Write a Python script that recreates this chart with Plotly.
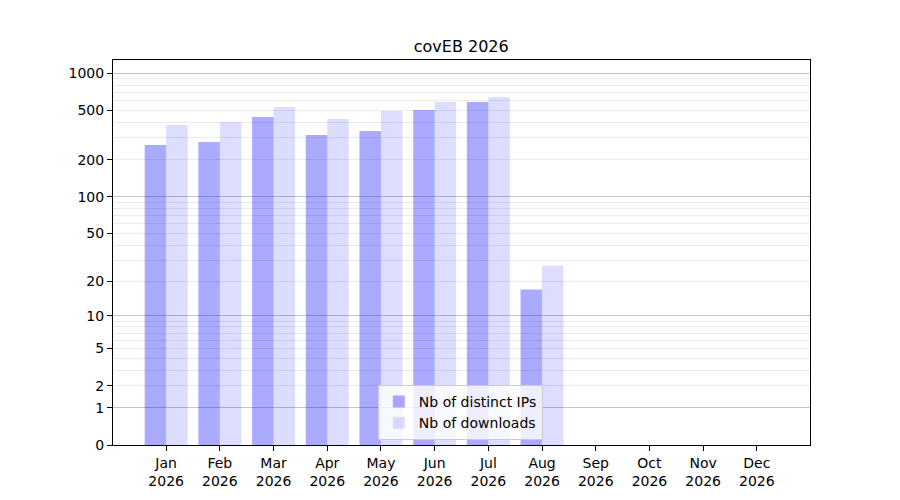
import math
import plotly.graph_objects as go

months = ["Jan", "Feb", "Mar", "Apr", "May", "Jun", "Jul", "Aug", "Sep", "Oct", "Nov", "Dec"]
year = "2026"
distinct_ips = [263, 278, 443, 317, 341, 505, 586, 17, 0, 0, 0, 0]
downloads = [381, 404, 534, 427, 495, 586, 643, 27, 0, 0, 0, 0]
y_tick_labels = [0, 1, 2, 5, 10, 20, 50, 100, 200, 500, 1000]
decades = [1, 10, 100, 1000]
minor_vals = [m * d for d in (1, 10, 100) for m in range(2, 10)]


def f(v):
    # scale used by the reference: log10(1 + v)
    return math.log10(1 + v)


x = list(range(len(months)))
FONT = "DejaVu Sans"

fig = go.Figure()
fig.add_trace(go.Bar(
    x=x, y=[f(v) for v in distinct_ips], customdata=distinct_ips,
    name="Nb of distinct IPs", width=0.4, offset=-0.4,
    marker=dict(color="rgba(0,0,255,0.333)", line=dict(width=0)),
    hovertemplate="%{customdata}<extra></extra>",
))
fig.add_trace(go.Bar(
    x=x, y=[f(v) for v in downloads], customdata=downloads,
    name="Nb of downloads", width=0.4, offset=0,
    marker=dict(color="rgba(0,0,255,0.135)", line=dict(width=0)),
    hovertemplate="%{customdata}<extra></extra>",
))
# invisible trace on the overlay axis for decade grid lines
fig.add_trace(go.Scatter(x=[0], y=[0], yaxis="y2", mode="markers",
                         marker=dict(opacity=0), showlegend=False, hoverinfo="skip"))

yrange = [0, 3.107]
fig.update_layout(
    width=900, height=500,
    paper_bgcolor="white", plot_bgcolor="rgba(0,0,0,0)",
    margin=dict(l=113, r=90, t=60, b=55),
    barmode="overlay",
    font=dict(family=FONT, size=14, color="black"),
    title=dict(text="covEB 2026", x=0.5125, xanchor="center", y=0.908, yanchor="middle",
               font=dict(family=FONT, size=16, color="black")),
    xaxis=dict(
        range=[-0.99, 11.99], tickmode="array", tickvals=x,
        ticktext=[f"{m}<br>{year}" for m in months],
        showgrid=False, zeroline=False, ticks="outside", ticklen=5, tickwidth=1,
        tickcolor="black", showline=True, linecolor="black", linewidth=1, mirror=True,
        tickfont=dict(family=FONT, size=14, color="black"),
    ),
    yaxis=dict(
        range=yrange, tickmode="array", tickvals=[f(t) for t in y_tick_labels],
        ticktext=[str(t) for t in y_tick_labels],
        showgrid=False, zeroline=False, ticks="outside", ticklen=5, tickwidth=1,
        tickcolor="black", showline=True, linecolor="black", linewidth=1, mirror=True,
        tickfont=dict(family=FONT, size=14, color="black"),
        minor=dict(tickmode="array", tickvals=[f(v) for v in minor_vals],
                   showgrid=True, gridcolor="#ebebeb", gridwidth=1, ticks=""),
    ),
    yaxis2=dict(
        range=yrange, overlaying="y", tickmode="array",
        tickvals=[f(v) for v in decades], showticklabels=False,
        showgrid=True, gridcolor="#c4c4c4", gridwidth=1, zeroline=False, ticks="",
        showline=False,
    ),
    legend=dict(
        x=0.380, xanchor="left", y=0.013, yanchor="bottom",
        bgcolor="rgba(255,255,255,0.8)", bordercolor="#cccccc", borderwidth=1,
        font=dict(family=FONT, size=14, color="black"),
        tracegroupgap=2, itemwidth=30,
    ),
    showlegend=True,
)

fig.write_html("out.html", config={"displayModeBar": False},
               post_script="document.body.style.margin='0';")
